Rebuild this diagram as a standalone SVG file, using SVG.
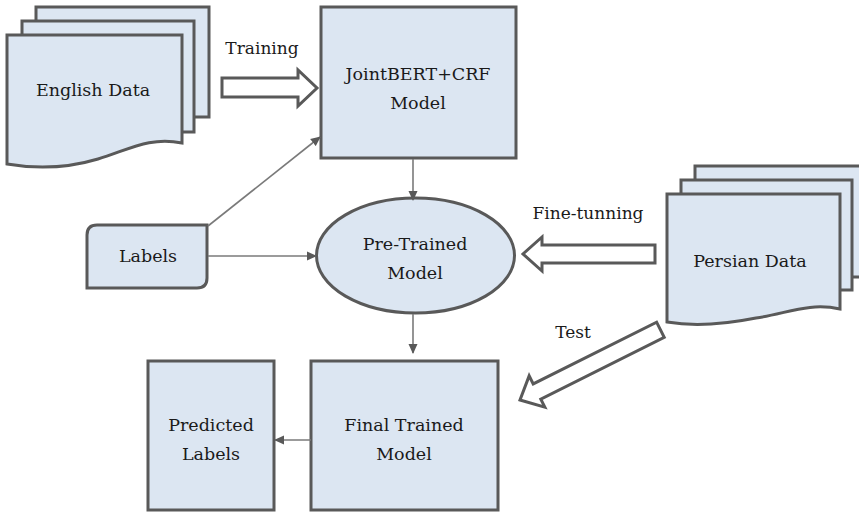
<svg xmlns="http://www.w3.org/2000/svg" width="859" height="512" viewBox="0 0 859 512">
<style>
.shape{fill:#dce6f2;stroke:#595959;stroke-width:3;stroke-linejoin:miter}
.block{fill:#ffffff;stroke:#595959;stroke-width:3;stroke-linejoin:miter}
.conn{fill:none;stroke:#7a7a7a;stroke-width:1.6}
.t{font-family:"DejaVu Serif","Liberation Serif",serif;font-size:17.5px;fill:#1a1a1a;text-anchor:middle}
.s{font-size:17px}
</style>
<defs>
<marker id="ah" markerWidth="10" markerHeight="10" refX="9" refY="5" orient="auto" markerUnits="userSpaceOnUse">
<path d="M0,0.5 L10,5 L0,9.5 Z" fill="#595959"/>
</marker>
</defs>
<rect width="859" height="512" fill="#ffffff"/>

<g id="english-data">
<rect class="shape" x="36" y="7" width="173" height="110"/>
<rect class="shape" x="22" y="21" width="172" height="111"/>
<path class="shape" d="M7,35 H182 V143 C150,136 128,150 98,159 C68,168 36,169 7,164 Z"/>
<text class="t" x="93" y="96">English Data</text>
</g>

<g id="jointbert">
<rect class="shape" x="321" y="7" width="195" height="151"/>
<text class="t" x="418" y="80">JointBERT+CRF</text>
<text class="t" x="418" y="109">Model</text>
</g>

<g id="labels">
<path class="shape" d="M97,225 H207 V278 Q207,288 197,288 H87 V235 Q87,225 97,225 Z"/>
<text class="t" x="148" y="262">Labels</text>
</g>

<g id="pretrained">
<ellipse class="shape" cx="415.5" cy="255.5" rx="99" ry="57.5"/>
<text class="t" x="415" y="250">Pre-Trained</text>
<text class="t" x="415" y="279">Model</text>
</g>

<g id="persian-data">
<rect class="shape" x="695" y="166" width="175" height="111"/>
<rect class="shape" x="681" y="180" width="171" height="110"/>
<path class="shape" d="M667,194 H840 V309 C808,302 786,314 756,318 C726,324 696,327 667,322 Z"/>
<text class="t" x="750" y="267">Persian Data</text>
</g>

<g id="final">
<rect class="shape" x="311" y="361" width="187" height="149"/>
<text class="t" x="404" y="431">Final Trained</text>
<text class="t" x="404" y="460">Model</text>
</g>

<g id="predicted">
<rect class="shape" x="148" y="361" width="126" height="149"/>
<text class="t" x="211" y="431">Predicted</text>
<text class="t" x="211" y="460">Labels</text>
</g>

<g id="connectors">
<path class="block" d="M222,78 H298 V70 L317,88 L298,106 V97 H222 Z"/>
<text class="t s" x="262" y="54">Training</text>
<path class="block" d="M655,245 H542 V237 L523,254 L542,271 V263 H655 Z"/>
<text class="t s" x="588" y="219">Fine-tunning</text>
<path class="block" transform="translate(520,400) rotate(153.43)" d="M0,0 L-19,-17.5 L-19,-8.5 L-157,-8.5 L-157,8.5 L-19,8.5 L-19,17.5 Z"/>
<text class="t s" x="573" y="338">Test</text>
<line class="conn" x1="413" y1="159" x2="413" y2="200" marker-end="url(#ah)"/>
<line class="conn" x1="208" y1="226" x2="320" y2="137" marker-end="url(#ah)"/>
<line class="conn" x1="208" y1="256" x2="316" y2="256" marker-end="url(#ah)"/>
<line class="conn" x1="413" y1="314" x2="413" y2="353" marker-end="url(#ah)"/>
<line class="conn" x1="311" y1="440" x2="275" y2="440" marker-end="url(#ah)"/>
</g>
</svg>
